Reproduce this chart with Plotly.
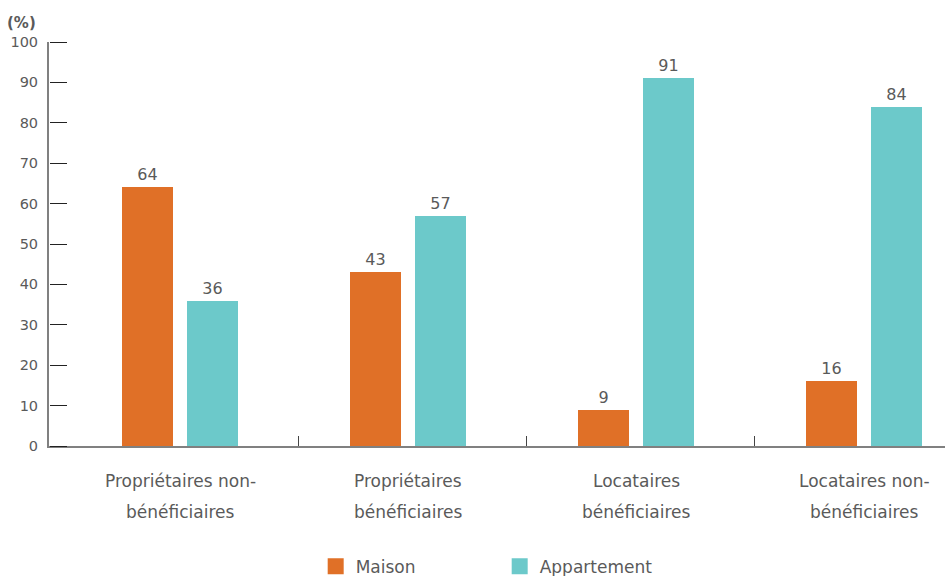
import plotly.graph_objects as go

# Categories (two display lines each) and series values, in percent
categories_l1 = ["Propriétaires non-", "Propriétaires", "Locataires", "Locataires non-"]
categories_l2 = ["bénéficiaires", "bénéficiaires", "bénéficiaires", "bénéficiaires"]
maison = [64, 43, 9, 16]
appartement = [36, 57, 91, 84]
y_ticks = [0, 10, 20, 30, 40, 50, 60, 70, 80, 90, 100]

ORANGE = "#E07027"
TEAL = "#6CC9CA"
GREY_TEXT = "#5A5A5A"
FONT = "DejaVu Sans"

x_pos = list(range(len(categories_l1)))
bar_w = 0.224
offset = 0.143
separators = [p + 0.52 for p in x_pos[:-1]]

fig = go.Figure()

fig.add_trace(go.Bar(
    x=[p - offset for p in x_pos], y=maison, width=bar_w,
    marker=dict(color=ORANGE, line=dict(width=0)),
    text=[str(v) for v in maison], textposition="outside",
    textfont=dict(size=16, color=GREY_TEXT, family=FONT),
    cliponaxis=False, showlegend=False, name="Maison",
))
fig.add_trace(go.Bar(
    x=[p + offset for p in x_pos], y=appartement, width=bar_w,
    marker=dict(color=TEAL, line=dict(width=0)),
    text=[str(v) for v in appartement], textposition="outside",
    textfont=dict(size=16, color=GREY_TEXT, family=FONT),
    cliponaxis=False, showlegend=False, name="Appartement",
))

# Legend entries with larger square swatches
for name, color in [("Maison", ORANGE), ("Appartement", TEAL)]:
    fig.add_trace(go.Scatter(
        x=[None], y=[None], mode="markers", name=name,
        marker=dict(symbol="square", size=20, color=color),
    ))

# Value-axis tick marks: a right-sided axis placed on the left edge,
# so its outside ticks point into the plot area
fig.add_trace(go.Scatter(x=[None], y=[None], yaxis="y2", showlegend=False,
                         hoverinfo="skip"))

annotations = []
for i, (l1, l2) in enumerate(zip(categories_l1, categories_l2)):
    annotations.append(dict(
        x=i, y=0, xref="x", yref="y", text=l1, showarrow=False,
        yshift=-35, font=dict(size=17, color=GREY_TEXT, family=FONT),
    ))
    annotations.append(dict(
        x=i, y=0, xref="x", yref="y", text=l2, showarrow=False,
        yshift=-66, font=dict(size=17, color=GREY_TEXT, family=FONT),
    ))
annotations.append(dict(
    x=0, y=1, xref="paper", yref="paper", text="<b>(%)</b>", showarrow=False,
    xanchor="right", yanchor="bottom", xshift=-11, yshift=8,
    font=dict(size=15, color=GREY_TEXT, family=FONT),
))

fig.update_layout(
    width=945, height=576,
    margin=dict(l=49, r=0, t=42, b=130, autoexpand=False),
    paper_bgcolor="white", plot_bgcolor="white",
    font=dict(family=FONT, color=GREY_TEXT),
    bargap=0,
    xaxis=dict(
        range=[-0.575, 3.355], tickvals=separators,
        ticktext=["" for _ in separators],
        ticks="inside", ticklen=10, tickwidth=1, tickcolor="#444444",
        showgrid=False, zeroline=False, showline=True,
        linecolor="#808080", linewidth=2,
    ),
    yaxis=dict(
        range=[0, 100], tickvals=y_ticks, ticks="", ticklabelstandoff=6,
        tickfont=dict(size=14.5, color=GREY_TEXT, family=FONT),
        showgrid=False, zeroline=False, showline=True,
        linecolor="#808080", linewidth=2,
    ),
    yaxis2=dict(
        range=[0, 100], overlaying="y", side="right",
        anchor="free", position=0,
        tickvals=y_ticks, showticklabels=False,
        ticks="outside", ticklen=17, tickwidth=1.2, tickcolor="#222222",
        showgrid=False, zeroline=False, showline=False,
    ),
    legend=dict(
        orientation="h", x=0.503, xanchor="center",
        yref="container", y=0.016, yanchor="middle",
        font=dict(size=17, color=GREY_TEXT, family=FONT),
        entrywidth=139, entrywidthmode="pixels",
        itemclick=False,
    ),
    annotations=annotations,
)

fig.write_html("out.html")
